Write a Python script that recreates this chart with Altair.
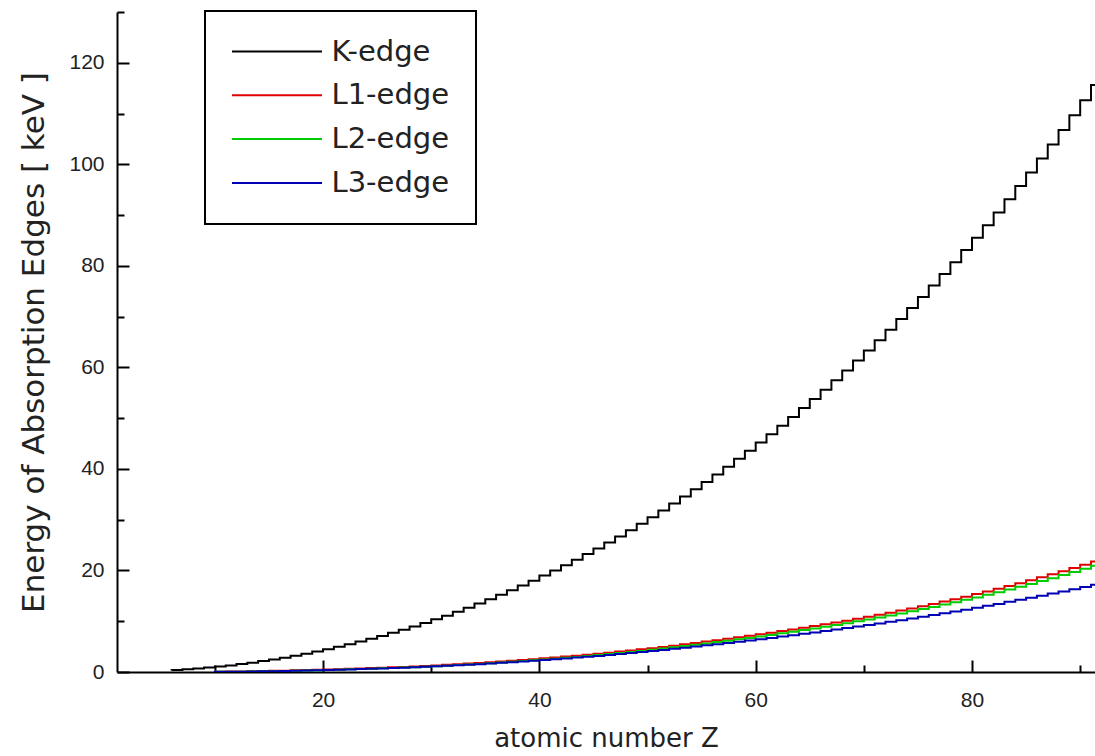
import altair as alt
import pandas as pd

# ---- data (absorption-edge energies, keV) ----
series_names = ["K-edge", "L1-edge", "L2-edge", "L3-edge"]
series_colors = ["#000000", "#e00000", "#00cc00", "#0000b4"]

z_k = list(range(6, 93))
k_edge = [0.284, 0.410, 0.543, 0.697, 0.870, 1.071, 1.303, 1.560, 1.839, 2.146,
          2.472, 2.822, 3.206, 3.608, 4.038, 4.492, 4.966, 5.465, 5.989, 6.539,
          7.112, 7.709, 8.333, 8.979, 9.659, 10.367, 11.103, 11.867, 12.658, 13.474,
          14.326, 15.200, 16.105, 17.038, 17.998, 18.986, 20.000, 21.044, 22.117, 23.220,
          24.350, 25.514, 26.711, 27.940, 29.200, 30.491, 31.814, 33.169, 34.561, 35.985,
          37.441, 38.925, 40.443, 41.991, 43.569, 45.184, 46.834, 48.519, 50.239, 51.996,
          53.789, 55.618, 57.486, 59.390, 61.332, 63.314, 65.351, 67.416, 69.525, 71.676,
          73.871, 76.111, 78.395, 80.725, 83.102, 85.530, 88.005, 90.526, 93.105, 95.730,
          98.404, 101.137, 103.922, 106.755, 109.651, 112.601, 115.606]

z_l = list(range(10, 93))
l1_edge = [0.0485, 0.0633, 0.0883, 0.1177, 0.1487, 0.1893, 0.2292, 0.2702, 0.3263, 0.3786,
           0.4384, 0.4984, 0.5609, 0.6267, 0.6961, 0.7691, 0.8445, 0.9254, 1.0081, 1.0961,
           1.1936, 1.2977, 1.4143, 1.5265, 1.6539, 1.782, 1.921, 2.0651, 2.2163, 2.3725,
           2.5316, 2.6977, 2.8655, 3.0425, 3.224, 3.4119, 3.6043, 3.8058, 4.0180, 4.2375,
           4.4647, 4.6983, 4.9392, 5.1881, 5.4528, 5.7143, 5.9888, 6.2663, 6.5488, 6.8348,
           7.1260, 7.4279, 7.7368, 8.0520, 8.3756, 8.7080, 9.0458, 9.3942, 9.7513, 10.1157,
           10.4864, 10.8704, 11.2707, 11.6815, 12.0998, 12.5267, 12.9680, 13.4185, 13.8799, 14.3528,
           14.8393, 15.3467, 15.8608, 16.3875, 16.9393, 17.4930, 18.0490, 18.6390, 19.2367, 19.8400,
           20.4720, 21.1046, 21.7574]
l2_edge = [0.0216, 0.0303, 0.0496, 0.0728, 0.0995, 0.136, 0.1652, 0.2016, 0.2506, 0.2971,
           0.3500, 0.4039, 0.4602, 0.5202, 0.5837, 0.6498, 0.7199, 0.7938, 0.8702, 0.9517,
           1.0428, 1.1423, 1.2478, 1.3586, 1.4762, 1.596, 1.7272, 1.8639, 2.0068, 2.1555,
           2.3067, 2.4647, 2.6251, 2.7932, 2.9669, 3.1461, 3.3303, 3.5237, 3.7270, 3.9380,
           4.1561, 4.3804, 4.6120, 4.8521, 5.1037, 5.3594, 5.6236, 5.8906, 6.1642, 6.4404,
           6.7215, 7.0128, 7.3118, 7.6171, 7.9303, 8.2516, 8.5806, 8.9178, 9.2643, 9.6169,
           9.9782, 10.3486, 10.7394, 11.1361, 11.5440, 11.9587, 12.3850, 12.8241, 13.2726, 13.7336,
           14.2087, 14.6979, 15.2000, 15.7111, 16.2443, 16.7847, 17.3371, 17.9065, 18.4843, 19.0832,
           19.6932, 20.3137, 20.9476]
l3_edge = [0.0216, 0.0303, 0.0496, 0.0728, 0.0995, 0.135, 0.1642, 0.2000, 0.2484, 0.2943,
           0.3461, 0.3985, 0.4538, 0.5122, 0.5743, 0.6387, 0.7067, 0.7782, 0.8526, 0.9317,
           1.0197, 1.1154, 1.2167, 1.3231, 1.4358, 1.550, 1.6749, 1.8044, 1.9396, 2.08,
           2.2223, 2.3705, 2.5202, 2.6769, 2.8379, 3.0038, 3.1733, 3.3511, 3.5375, 3.7301,
           3.9288, 4.1322, 4.3414, 4.5571, 4.7822, 5.0119, 5.2470, 5.4827, 5.7234, 5.9643,
           6.2079, 6.4593, 6.7162, 6.9769, 7.2428, 7.5140, 7.7901, 8.0711, 8.3579, 8.6480,
           8.9436, 9.2441, 9.5607, 9.8811, 10.2068, 10.5353, 10.8709, 11.2152, 11.5637, 11.9187,
           12.2839, 12.6575, 13.0352, 13.4186, 13.8138, 14.2135, 14.6194, 15.0312, 15.4444, 15.8710,
           16.3003, 16.7331, 17.1663]

x_major = [20, 40, 60, 80]
x_minor = [10, 30, 50, 70, 90]
y_major = [0, 20, 40, 60, 80, 100, 120]
y_minor = [10, 30, 50, 70, 90, 110, 130]

rows = []
for name, zs, vals in [("K-edge", z_k, k_edge), ("L1-edge", z_l, l1_edge),
                       ("L2-edge", z_l, l2_edge), ("L3-edge", z_l, l3_edge)]:
    for z, v in zip(zs, vals):
        rows.append({"series": name, "Z": z, "E": v})
df = pd.DataFrame(rows)

W, H = 978, 660
TXT = "#222222"

x_scale = alt.Scale(domain=[0.95, 91.37], nice=False, zero=False)
y_scale = alt.Scale(domain=[0, 130], nice=False, zero=False)

x_axis_major = alt.Axis(
    orient="bottom", values=x_major, grid=False,
    tickSize=alt.ExprRef("-12"), tickWidth=2, tickColor="black",
    domainColor="black", domainWidth=2,
    labelFont="Liberation Sans", labelFontSize=21, labelColor=TXT,
    labelPadding=29, labelFlush=False,
    title="atomic number Z", titleFont="DejaVu Sans", titleFontSize=26,
    titleFontWeight="normal", titleColor=TXT, titleX=W / 2, titleY=66,
    titleBaseline="middle", titleAlign="center",
)
x_axis_minor = alt.Axis(
    orient="bottom", values=x_minor, grid=False, labels=False, domain=False,
    tickSize=alt.ExprRef("-7"), tickWidth=2, tickColor="black", title="",
)
y_axis_major = alt.Axis(
    orient="left", values=y_major, grid=False,
    tickSize=alt.ExprRef("-12"), tickWidth=2, tickColor="black",
    domainColor="black", domainWidth=2,
    labelFont="Liberation Sans", labelFontSize=21, labelColor=TXT,
    labelPadding=25, labelFlush=False,
    title="Energy of Absorption Edges [ keV ]", titleFont="DejaVu Sans",
    titleFontSize=31, titleFontWeight="normal", titleColor=TXT,
    titleX=-83, titleY=330, titleBaseline="middle", titleAlign="center", titleAngle=270,
)
y_axis_minor = alt.Axis(
    orient="left", values=y_minor, grid=False, labels=False, domain=False,
    tickSize=alt.ExprRef("-7"), tickWidth=2, tickColor="black", title="",
)

legend = alt.Legend(
    orient="none", legendX=88, legendY=-1, title=None,
    labelFont="DejaVu Sans", labelFontSize=29, labelColor=TXT, labelLimit=400,
    symbolType="M-4.5,0H4.5", symbolSize=400, symbolStrokeWidth=2,
    symbolOffset=31.5, labelOffset=40, rowPadding=13.8, padding=26,
    strokeColor="black", fillColor="white", cornerRadius=0,
)

lines = alt.Chart(df).mark_line(interpolate="step-before", strokeWidth=2, clip=True).encode(
    x=alt.X("Z:Q", scale=x_scale, axis=x_axis_major),
    y=alt.Y("E:Q", scale=y_scale, axis=y_axis_major),
    color=alt.Color("series:N", scale=alt.Scale(domain=series_names, range=series_colors),
                    sort=series_names, legend=legend),
)

minor = alt.Chart(df).mark_line(strokeOpacity=0, clip=True).encode(
    x=alt.X("Z:Q", scale=x_scale, axis=x_axis_minor),
    y=alt.Y("E:Q", scale=y_scale, axis=y_axis_minor),
    detail="series:N",
)

chart = alt.layer(lines, minor).resolve_axis(
    x="independent", y="independent"
).properties(
    width=W, height=H,
    autosize=alt.AutoSizeParams(type="none"),
    padding={"left": 117, "top": 12, "right": 0, "bottom": 84},
    background="white",
).configure_view(strokeWidth=0).configure_legend(strokeWidth=2)

chart.save("out.html", embed_options={"renderer": "svg", "actions": False})
